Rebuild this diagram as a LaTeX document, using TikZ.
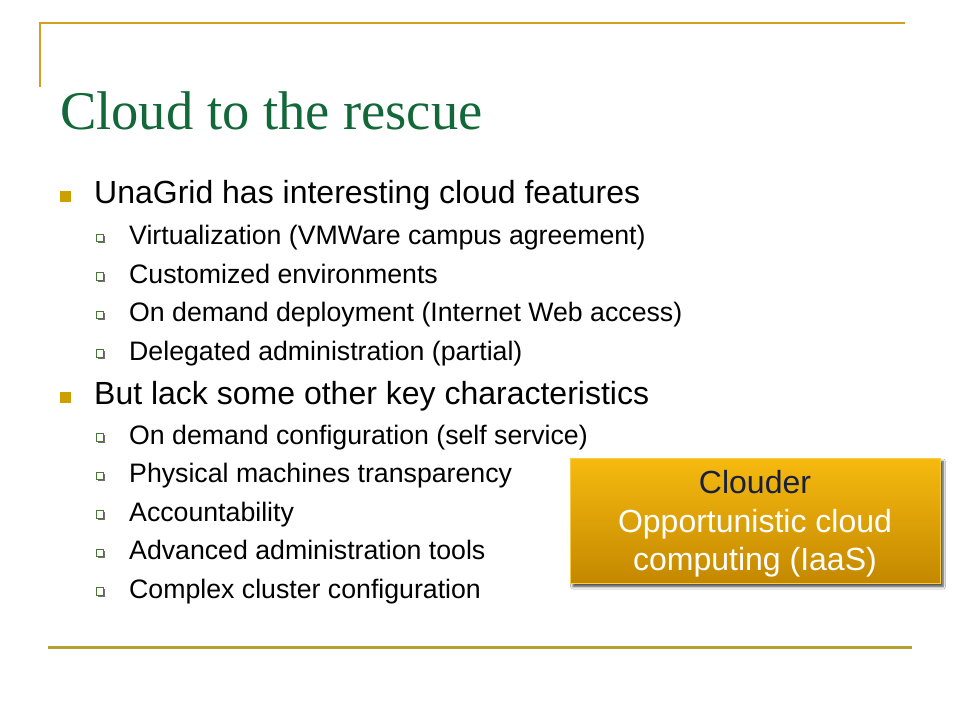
\documentclass[tikz,border=0pt]{standalone}
\usepackage{fontspec}
\setmainfont{Liberation Sans}
\newfontfamily\titlefont{Liberation Serif}
\usetikzlibrary{shadows,shadows.blur}
\definecolor{rulegold}{RGB}{210,160,32}
\definecolor{ruleolive}{RGB}{184,160,48}
\definecolor{titlegreen}{RGB}{18,104,56}
\definecolor{bulgold}{RGB}{204,160,0}
\definecolor{bulgreen}{RGB}{70,120,50}
\definecolor{boxtop}{RGB}{246,186,16}
\definecolor{boxbot}{RGB}{196,136,0}
\definecolor{boxedge}{RGB}{245,205,70}
\definecolor{navy}{RGB}{24,32,62}
\tikzset{
  lone/.style={anchor=base west, inner sep=0pt, font=\fontsize{32}{38}\selectfont},
  ltwo/.style={anchor=base west, inner sep=0pt, font=\fontsize{26.7}{32}\selectfont},
  bulone/.style={fill=bulgold, inner sep=0pt, minimum size=11pt, draw=none},
  bultwo/.style={draw=bulgreen, line width=1pt, fill=white, inner sep=0pt, minimum size=7.5pt,
     drop shadow={shadow xshift=1.3pt, shadow yshift=-1.3pt, fill=black!65, opacity=0.85}},
  cbox/.style={top color=boxtop, bottom color=boxbot, draw=boxedge, line width=0.8pt,
     blur shadow={shadow xshift=3pt, shadow yshift=-3.5pt, shadow blur steps=6, shadow blur radius=2.5pt, shadow opacity=75}},
}
\begin{document}
\begin{tikzpicture}[x=1pt,y=-1pt]
\useasboundingbox (0,0) rectangle (960,720);
\fill[white] (0,0) rectangle (960,720);
% frame rules
\coordinate (tl) at (40,23);
\coordinate (tr) at (905,23);
\coordinate (lb) at (40,87);
\coordinate (bl) at (48,647.5);
\coordinate (br) at (912,647.5);
\draw[rulegold, line width=2pt] (lb) -- (tl) -- (tr);
\draw[ruleolive, line width=2.5pt] (bl) -- (br);
% title
\node[anchor=base west, inner sep=0pt, text=titlegreen, font=\titlefont\fontsize{54.5}{60}\selectfont] (title) at (60,129.5) {Cloud to the rescue};
% level 1
\node[bulone] (b1) at (65.8,196.5) {};
\node[lone] (t1) at (94,203.5) {UnaGrid has interesting cloud features};
\node[bultwo] (b11) at (100,238) {};
\node[ltwo] (t11) at (129,244.5) {Virtualization (VMWare campus agreement)};
\node[bultwo] (b12) at (100,276.5) {};
\node[ltwo] (t12) at (129,283) {Customized environments};
\node[bultwo] (b13) at (100,315) {};
\node[ltwo] (t13) at (129,321.5) {On demand deployment (Internet Web access)};
\node[bultwo] (b14) at (100,353.5) {};
\node[ltwo] (t14) at (129,360) {Delegated administration (partial)};
\node[bulone] (b2) at (65.8,397.5) {};
\node[lone] (t2) at (94,404.5) {But lack some other key characteristics};
\node[bultwo] (b21) at (100,437.5) {};
\node[ltwo] (t21) at (129,444) {On demand configuration (self service)};
\node[bultwo] (b22) at (100,476) {};
\node[ltwo] (t22) at (129,482.5) {Physical machines transparency};
\node[bultwo] (b23) at (100,514.5) {};
\node[ltwo] (t23) at (129,521) {Accountability};
\node[bultwo] (b24) at (100,553) {};
\node[ltwo] (t24) at (129,559.5) {Advanced administration tools};
\node[bultwo] (b25) at (100,591.5) {};
\node[ltwo] (t25) at (129,598) {Complex cluster configuration};
% box
\node[cbox, minimum width=370pt, minimum height=125pt, inner sep=0pt] (box) at (755,520.5) {};
\node[anchor=base, inner sep=0pt, text=navy, font=\fontsize{32}{38}\selectfont] (c1) at (755,493) {Clouder};
\node[anchor=base, inner sep=0pt, text=white, font=\fontsize{32}{38}\selectfont] (c2) at (755,532) {Opportunistic cloud};
\node[anchor=base, inner sep=0pt, text=white, font=\fontsize{32}{38}\selectfont] (c3) at (755,570) {computing (IaaS)};
\end{tikzpicture}
\end{document}
